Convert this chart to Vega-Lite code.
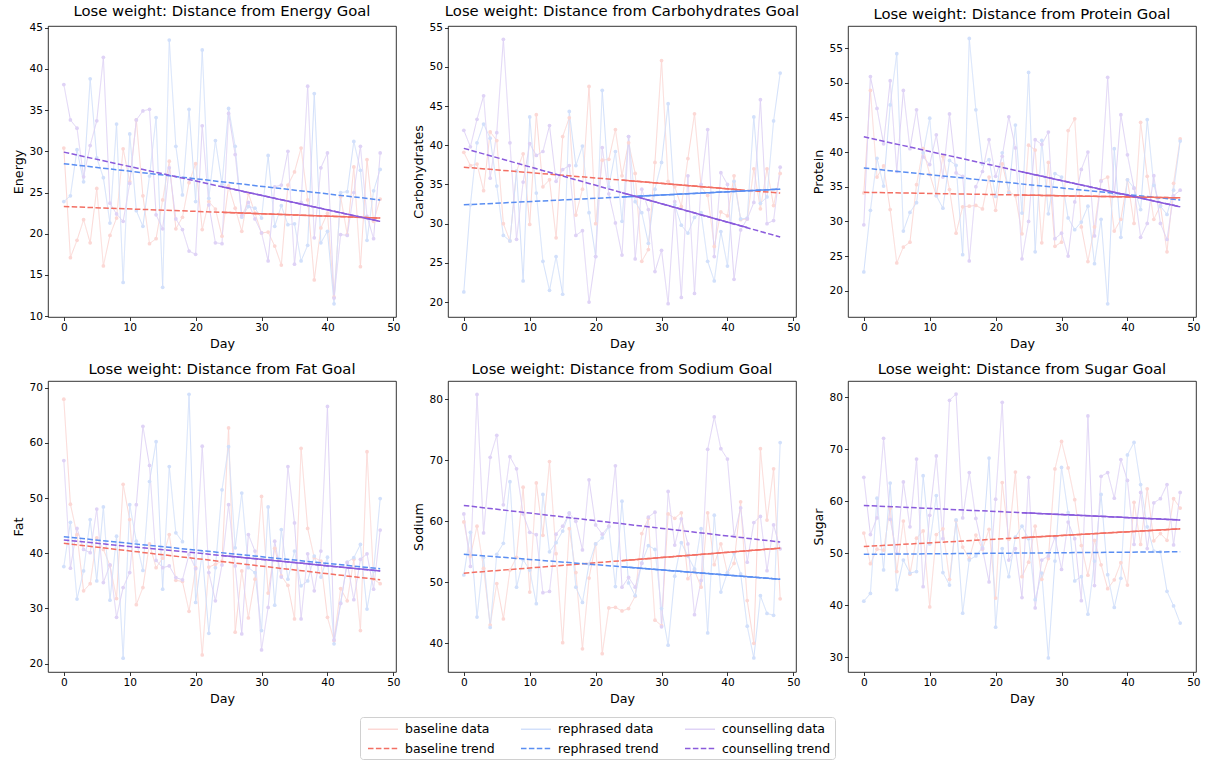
{
"$schema": "https://vega.github.io/schema/vega-lite/v6.json",
"padding": {"left": 11, "top": 3, "right": 5, "bottom": 1},
"columns": 3,
"spacing": {"row": 10, "column": 10},
"datasets": {
"obs": [
{"panel":"Energy","day":0,"baseline data":30.4,"rephrased data":23.9,"counselling data":38.1},
{"panel":"Energy","day":1,"baseline data":17.1,"rephrased data":24.6,"counselling data":33.8},
{"panel":"Energy","day":2,"baseline data":19.2,"rephrased data":30.2,"counselling data":32.8},
{"panel":"Energy","day":3,"baseline data":21.7,"rephrased data":26.3,"counselling data":26.9},
{"panel":"Energy","day":4,"baseline data":18.9,"rephrased data":38.8,"counselling data":30.7},
{"panel":"Energy","day":5,"baseline data":25.5,"rephrased data":29.2,"counselling data":33.7},
{"panel":"Energy","day":6,"baseline data":16.1,"rephrased data":26.8,"counselling data":41.4},
{"panel":"Energy","day":7,"baseline data":19.8,"rephrased data":21.3,"counselling data":23.7},
{"panel":"Energy","day":8,"baseline data":21.9,"rephrased data":33.3,"counselling data":22.4},
{"panel":"Energy","day":9,"baseline data":30.3,"rephrased data":14.1,"counselling data":21.5},
{"panel":"Energy","day":10,"baseline data":26.3,"rephrased data":32.1,"counselling data":26.1},
{"panel":"Energy","day":11,"baseline data":33.8,"rephrased data":22.8,"counselling data":33.8},
{"panel":"Energy","day":12,"baseline data":24.6,"rephrased data":20.9,"counselling data":34.9},
{"panel":"Energy","day":13,"baseline data":18.8,"rephrased data":27.0,"counselling data":35.1},
{"panel":"Energy","day":14,"baseline data":19.4,"rephrased data":34.1,"counselling data":22.3},
{"panel":"Energy","day":15,"baseline data":24.1,"rephrased data":13.5,"counselling data":20.6},
{"panel":"Energy","day":16,"baseline data":28.8,"rephrased data":43.5,"counselling data":28.0},
{"panel":"Energy","day":17,"baseline data":20.6,"rephrased data":30.6,"counselling data":21.8},
{"panel":"Energy","day":18,"baseline data":22.0,"rephrased data":24.7,"counselling data":20.5},
{"panel":"Energy","day":19,"baseline data":26.2,"rephrased data":35.1,"counselling data":17.9},
{"panel":"Energy","day":20,"baseline data":28.5,"rephrased data":23.9,"counselling data":17.5},
{"panel":"Energy","day":21,"baseline data":20.5,"rephrased data":42.3,"counselling data":33.1},
{"panel":"Energy","day":22,"baseline data":23.9,"rephrased data":24.3,"counselling data":23.5},
{"panel":"Energy","day":23,"baseline data":23.0,"rephrased data":31.3,"counselling data":18.9},
{"panel":"Energy","day":24,"baseline data":19.7,"rephrased data":26.0,"counselling data":18.8},
{"panel":"Energy","day":25,"baseline data":25.8,"rephrased data":35.2,"counselling data":34.6},
{"panel":"Energy","day":26,"baseline data":23.1,"rephrased data":30.6,"counselling data":29.6},
{"panel":"Energy","day":27,"baseline data":20.3,"rephrased data":22.0,"counselling data":22.2},
{"panel":"Energy","day":28,"baseline data":24.9,"rephrased data":23.3,"counselling data":23.8},
{"panel":"Energy","day":29,"baseline data":22.5,"rephrased data":23.1,"counselling data":21.8},
{"panel":"Energy","day":30,"baseline data":20.1,"rephrased data":21.9,"counselling data":20.1},
{"panel":"Energy","day":31,"baseline data":20.2,"rephrased data":29.5,"counselling data":16.7},
{"panel":"Energy","day":32,"baseline data":18.5,"rephrased data":20.9,"counselling data":25.7},
{"panel":"Energy","day":33,"baseline data":16.2,"rephrased data":23.4,"counselling data":25.9},
{"panel":"Energy","day":34,"baseline data":25.9,"rephrased data":21.1,"counselling data":30.0},
{"panel":"Energy","day":35,"baseline data":27.5,"rephrased data":21.2,"counselling data":16.3},
{"panel":"Energy","day":36,"baseline data":30.4,"rephrased data":16.7,"counselling data":23.8},
{"panel":"Energy","day":37,"baseline data":24.1,"rephrased data":18.6,"counselling data":37.9},
{"panel":"Energy","day":38,"baseline data":14.4,"rephrased data":37.0,"counselling data":19.5},
{"panel":"Energy","day":39,"baseline data":20.7,"rephrased data":18.9,"counselling data":28.0},
{"panel":"Energy","day":40,"baseline data":22.5,"rephrased data":20.3,"counselling data":29.8},
{"panel":"Energy","day":41,"baseline data":12.3,"rephrased data":11.5,"counselling data":12.2},
{"panel":"Energy","day":42,"baseline data":24.5,"rephrased data":25.0,"counselling data":19.9},
{"panel":"Energy","day":43,"baseline data":19.9,"rephrased data":25.1,"counselling data":19.8},
{"panel":"Energy","day":44,"baseline data":28.1,"rephrased data":31.2,"counselling data":25.0},
{"panel":"Energy","day":45,"baseline data":16.0,"rephrased data":27.7,"counselling data":30.6},
{"panel":"Energy","day":46,"baseline data":29.0,"rephrased data":19.2,"counselling data":22.1},
{"panel":"Energy","day":47,"baseline data":21.5,"rephrased data":25.2,"counselling data":19.4},
{"panel":"Energy","day":48,"baseline data":24.2,"rephrased data":27.8,"counselling data":29.8},
{"panel":"Carbohydrates","day":0,"baseline data":39.1,"rephrased data":21.3,"counselling data":41.9},
{"panel":"Carbohydrates","day":1,"baseline data":37.4,"rephrased data":32.4,"counselling data":39.8},
{"panel":"Carbohydrates","day":2,"baseline data":37.6,"rephrased data":40.3,"counselling data":43.3},
{"panel":"Carbohydrates","day":3,"baseline data":34.2,"rephrased data":42.7,"counselling data":46.3},
{"panel":"Carbohydrates","day":4,"baseline data":41.7,"rephrased data":40.9,"counselling data":35.8},
{"panel":"Carbohydrates","day":5,"baseline data":40.6,"rephrased data":34.8,"counselling data":41.6},
{"panel":"Carbohydrates","day":6,"baseline data":30.0,"rephrased data":28.5,"counselling data":53.5},
{"panel":"Carbohydrates","day":7,"baseline data":27.8,"rephrased data":27.8,"counselling data":40.3},
{"panel":"Carbohydrates","day":8,"baseline data":36.7,"rephrased data":36.7,"counselling data":28.0},
{"panel":"Carbohydrates","day":9,"baseline data":38.9,"rephrased data":22.7,"counselling data":35.3},
{"panel":"Carbohydrates","day":10,"baseline data":29.9,"rephrased data":43.6,"counselling data":40.2},
{"panel":"Carbohydrates","day":11,"baseline data":43.9,"rephrased data":33.9,"counselling data":38.7},
{"panel":"Carbohydrates","day":12,"baseline data":34.7,"rephrased data":25.2,"counselling data":39.2},
{"panel":"Carbohydrates","day":13,"baseline data":35.6,"rephrased data":21.5,"counselling data":42.5},
{"panel":"Carbohydrates","day":14,"baseline data":28.2,"rephrased data":25.8,"counselling data":35.4},
{"panel":"Carbohydrates","day":15,"baseline data":41.1,"rephrased data":21.0,"counselling data":36.9},
{"panel":"Carbohydrates","day":16,"baseline data":43.5,"rephrased data":44.3,"counselling data":37.4},
{"panel":"Carbohydrates","day":17,"baseline data":31.1,"rephrased data":37.4,"counselling data":28.5},
{"panel":"Carbohydrates","day":18,"baseline data":34.4,"rephrased data":39.9,"counselling data":29.1},
{"panel":"Carbohydrates","day":19,"baseline data":47.5,"rephrased data":31.4,"counselling data":20.0},
{"panel":"Carbohydrates","day":20,"baseline data":30.0,"rephrased data":25.8,"counselling data":25.8},
{"panel":"Carbohydrates","day":21,"baseline data":38.1,"rephrased data":47.0,"counselling data":39.7},
{"panel":"Carbohydrates","day":22,"baseline data":38.2,"rephrased data":34.7,"counselling data":33.8},
{"panel":"Carbohydrates","day":23,"baseline data":42.0,"rephrased data":39.2,"counselling data":30.1},
{"panel":"Carbohydrates","day":24,"baseline data":36.1,"rephrased data":30.3,"counselling data":26.0},
{"panel":"Carbohydrates","day":25,"baseline data":40.3,"rephrased data":41.1,"counselling data":41.1},
{"panel":"Carbohydrates","day":26,"baseline data":36.4,"rephrased data":32.8,"counselling data":25.5},
{"panel":"Carbohydrates","day":27,"baseline data":25.2,"rephrased data":31.4,"counselling data":34.4},
{"panel":"Carbohydrates","day":28,"baseline data":26.7,"rephrased data":27.5,"counselling data":31.8},
{"panel":"Carbohydrates","day":29,"baseline data":37.8,"rephrased data":34.4,"counselling data":23.9},
{"panel":"Carbohydrates","day":30,"baseline data":50.8,"rephrased data":37.8,"counselling data":26.6},
{"panel":"Carbohydrates","day":31,"baseline data":35.4,"rephrased data":45.3,"counselling data":19.8},
{"panel":"Carbohydrates","day":32,"baseline data":34.7,"rephrased data":32.4,"counselling data":32.8},
{"panel":"Carbohydrates","day":33,"baseline data":32.2,"rephrased data":29.8,"counselling data":20.6},
{"panel":"Carbohydrates","day":34,"baseline data":38.3,"rephrased data":28.8,"counselling data":36.1},
{"panel":"Carbohydrates","day":35,"baseline data":44.0,"rephrased data":30.8,"counselling data":21.1},
{"panel":"Carbohydrates","day":36,"baseline data":34.7,"rephrased data":31.4,"counselling data":35.0},
{"panel":"Carbohydrates","day":37,"baseline data":33.6,"rephrased data":25.2,"counselling data":42.0},
{"panel":"Carbohydrates","day":38,"baseline data":27.1,"rephrased data":22.7,"counselling data":25.8},
{"panel":"Carbohydrates","day":39,"baseline data":31.5,"rephrased data":29.0,"counselling data":36.5},
{"panel":"Carbohydrates","day":40,"baseline data":31.0,"rephrased data":24.6,"counselling data":35.0},
{"panel":"Carbohydrates","day":41,"baseline data":36.1,"rephrased data":35.4,"counselling data":22.9},
{"panel":"Carbohydrates","day":42,"baseline data":30.5,"rephrased data":30.6,"counselling data":29.2},
{"panel":"Carbohydrates","day":43,"baseline data":30.6,"rephrased data":30.7,"counselling data":30.6},
{"panel":"Carbohydrates","day":44,"baseline data":37.0,"rephrased data":43.6,"counselling data":32.7},
{"panel":"Carbohydrates","day":45,"baseline data":31.9,"rephrased data":32.6,"counselling data":45.8},
{"panel":"Carbohydrates","day":46,"baseline data":37.0,"rephrased data":33.4,"counselling data":30.0},
{"panel":"Carbohydrates","day":47,"baseline data":32.3,"rephrased data":43.1,"counselling data":30.4},
{"panel":"Carbohydrates","day":48,"baseline data":36.4,"rephrased data":49.2,"counselling data":37.2},
{"panel":"Protein","day":0,"baseline data":34.1,"rephrased data":22.7,"counselling data":29.5},
{"panel":"Protein","day":1,"baseline data":48.9,"rephrased data":31.6,"counselling data":50.9},
{"panel":"Protein","day":2,"baseline data":36.4,"rephrased data":39.1,"counselling data":46.3},
{"panel":"Protein","day":3,"baseline data":38.0,"rephrased data":35.1,"counselling data":41.2},
{"panel":"Protein","day":4,"baseline data":31.7,"rephrased data":46.8,"counselling data":50.3},
{"panel":"Protein","day":5,"baseline data":24.0,"rephrased data":54.2,"counselling data":37.2},
{"panel":"Protein","day":6,"baseline data":26.3,"rephrased data":28.6,"counselling data":48.9},
{"panel":"Protein","day":7,"baseline data":27.0,"rephrased data":31.3,"counselling data":40.5},
{"panel":"Protein","day":8,"baseline data":35.3,"rephrased data":32.7,"counselling data":46.1},
{"panel":"Protein","day":9,"baseline data":40.5,"rephrased data":39.9,"counselling data":39.3},
{"panel":"Protein","day":10,"baseline data":36.8,"rephrased data":44.9,"counselling data":38.2},
{"panel":"Protein","day":11,"baseline data":33.7,"rephrased data":33.7,"counselling data":42.5},
{"panel":"Protein","day":12,"baseline data":39.4,"rephrased data":31.9,"counselling data":36.4},
{"panel":"Protein","day":13,"baseline data":34.6,"rephrased data":38.8,"counselling data":45.5},
{"panel":"Protein","day":14,"baseline data":28.3,"rephrased data":38.1,"counselling data":37.0},
{"panel":"Protein","day":15,"baseline data":32.1,"rephrased data":25.2,"counselling data":36.5},
{"panel":"Protein","day":16,"baseline data":32.2,"rephrased data":56.4,"counselling data":24.3},
{"panel":"Protein","day":17,"baseline data":32.3,"rephrased data":46.1,"counselling data":35.0},
{"panel":"Protein","day":18,"baseline data":31.8,"rephrased data":38.3,"counselling data":37.2},
{"panel":"Protein","day":19,"baseline data":36.4,"rephrased data":38.9,"counselling data":41.8},
{"panel":"Protein","day":20,"baseline data":31.6,"rephrased data":33.6,"counselling data":36.5},
{"panel":"Protein","day":21,"baseline data":38.3,"rephrased data":39.9,"counselling data":39.4},
{"panel":"Protein","day":22,"baseline data":34.3,"rephrased data":34.1,"counselling data":45.1},
{"panel":"Protein","day":23,"baseline data":33.7,"rephrased data":43.9,"counselling data":40.6},
{"panel":"Protein","day":24,"baseline data":28.2,"rephrased data":31.2,"counselling data":24.6},
{"panel":"Protein","day":25,"baseline data":41.0,"rephrased data":51.5,"counselling data":30.0},
{"panel":"Protein","day":26,"baseline data":40.3,"rephrased data":25.6,"counselling data":41.8},
{"panel":"Protein","day":27,"baseline data":26.9,"rephrased data":41.7,"counselling data":41.1},
{"panel":"Protein","day":28,"baseline data":38.5,"rephrased data":31.1,"counselling data":42.9},
{"panel":"Protein","day":29,"baseline data":26.4,"rephrased data":36.9,"counselling data":27.5},
{"panel":"Protein","day":30,"baseline data":27.0,"rephrased data":36.4,"counselling data":28.3},
{"panel":"Protein","day":31,"baseline data":43.1,"rephrased data":30.5,"counselling data":25.0},
{"panel":"Protein","day":32,"baseline data":44.8,"rephrased data":28.8,"counselling data":32.8},
{"panel":"Protein","day":33,"baseline data":29.2,"rephrased data":29.9,"counselling data":37.5},
{"panel":"Protein","day":34,"baseline data":24.2,"rephrased data":32.2,"counselling data":40.0},
{"panel":"Protein","day":35,"baseline data":29.2,"rephrased data":23.9,"counselling data":27.9},
{"panel":"Protein","day":36,"baseline data":35.9,"rephrased data":30.3,"counselling data":35.8},
{"panel":"Protein","day":37,"baseline data":36.4,"rephrased data":18.1,"counselling data":50.8},
{"panel":"Protein","day":38,"baseline data":28.6,"rephrased data":40.5,"counselling data":33.7},
{"panel":"Protein","day":39,"baseline data":30.3,"rephrased data":27.7,"counselling data":45.4},
{"panel":"Protein","day":40,"baseline data":36.0,"rephrased data":36.0,"counselling data":39.6},
{"panel":"Protein","day":41,"baseline data":29.7,"rephrased data":34.8,"counselling data":34.8},
{"panel":"Protein","day":42,"baseline data":44.3,"rephrased data":31.7,"counselling data":27.7},
{"panel":"Protein","day":43,"baseline data":36.5,"rephrased data":44.7,"counselling data":29.7},
{"panel":"Protein","day":44,"baseline data":30.3,"rephrased data":35.2,"counselling data":36.6},
{"panel":"Protein","day":45,"baseline data":32.3,"rephrased data":32.2,"counselling data":29.7},
{"panel":"Protein","day":46,"baseline data":25.6,"rephrased data":31.0,"counselling data":27.4},
{"panel":"Protein","day":47,"baseline data":35.5,"rephrased data":34.5,"counselling data":33.7},
{"panel":"Protein","day":48,"baseline data":41.9,"rephrased data":41.6,"counselling data":34.5},
{"panel":"Fat","day":0,"baseline data":67.9,"rephrased data":37.6,"counselling data":56.8},
{"panel":"Fat","day":1,"baseline data":48.9,"rephrased data":45.6,"counselling data":37.3},
{"panel":"Fat","day":2,"baseline data":43.4,"rephrased data":31.7,"counselling data":44.5},
{"panel":"Fat","day":3,"baseline data":33.2,"rephrased data":36.8,"counselling data":40.7},
{"panel":"Fat","day":4,"baseline data":34.5,"rephrased data":46.1,"counselling data":40.1},
{"panel":"Fat","day":5,"baseline data":42.8,"rephrased data":35.0,"counselling data":48.0},
{"panel":"Fat","day":6,"baseline data":40.7,"rephrased data":48.4,"counselling data":34.7},
{"panel":"Fat","day":7,"baseline data":37.8,"rephrased data":31.5,"counselling data":37.9},
{"panel":"Fat","day":8,"baseline data":31.8,"rephrased data":43.1,"counselling data":28.4},
{"panel":"Fat","day":9,"baseline data":52.5,"rephrased data":21.0,"counselling data":33.8},
{"panel":"Fat","day":10,"baseline data":46.1,"rephrased data":48.8,"counselling data":36.5},
{"panel":"Fat","day":11,"baseline data":30.7,"rephrased data":42.2,"counselling data":48.8},
{"panel":"Fat","day":12,"baseline data":33.8,"rephrased data":36.9,"counselling data":63.0},
{"panel":"Fat","day":13,"baseline data":41.7,"rephrased data":53.0,"counselling data":55.9},
{"panel":"Fat","day":14,"baseline data":37.4,"rephrased data":60.2,"counselling data":38.7},
{"panel":"Fat","day":15,"baseline data":39.1,"rephrased data":33.5,"counselling data":37.4},
{"panel":"Fat","day":16,"baseline data":43.4,"rephrased data":55.7,"counselling data":37.7},
{"panel":"Fat","day":17,"baseline data":35.1,"rephrased data":43.7,"counselling data":35.6},
{"panel":"Fat","day":18,"baseline data":34.9,"rephrased data":42.1,"counselling data":35.2},
{"panel":"Fat","day":19,"baseline data":29.5,"rephrased data":68.8,"counselling data":39.8},
{"panel":"Fat","day":20,"baseline data":37.4,"rephrased data":31.1,"counselling data":37.2},
{"panel":"Fat","day":21,"baseline data":21.6,"rephrased data":40.1,"counselling data":59.4},
{"panel":"Fat","day":22,"baseline data":37.5,"rephrased data":25.5,"counselling data":36.5},
{"panel":"Fat","day":23,"baseline data":38.0,"rephrased data":37.4,"counselling data":31.4},
{"panel":"Fat","day":24,"baseline data":38.6,"rephrased data":51.5,"counselling data":37.9},
{"panel":"Fat","day":25,"baseline data":62.7,"rephrased data":59.3,"counselling data":48.8},
{"panel":"Fat","day":26,"baseline data":25.7,"rephrased data":41.0,"counselling data":37.7},
{"panel":"Fat","day":27,"baseline data":36.8,"rephrased data":50.9,"counselling data":25.4},
{"panel":"Fat","day":28,"baseline data":28.3,"rephrased data":37.4,"counselling data":43.4},
{"panel":"Fat","day":29,"baseline data":35.3,"rephrased data":36.5,"counselling data":40.4},
{"panel":"Fat","day":30,"baseline data":50.3,"rephrased data":26.0,"counselling data":22.5},
{"panel":"Fat","day":31,"baseline data":32.8,"rephrased data":48.4,"counselling data":30.2},
{"panel":"Fat","day":32,"baseline data":40.9,"rephrased data":30.6,"counselling data":42.2},
{"panel":"Fat","day":33,"baseline data":35.9,"rephrased data":44.3,"counselling data":35.7},
{"panel":"Fat","day":34,"baseline data":34.2,"rephrased data":35.3,"counselling data":55.7},
{"panel":"Fat","day":35,"baseline data":28.1,"rephrased data":40.4,"counselling data":45.5},
{"panel":"Fat","day":36,"baseline data":59.0,"rephrased data":34.1,"counselling data":28.1},
{"panel":"Fat","day":37,"baseline data":44.5,"rephrased data":35.0,"counselling data":39.9},
{"panel":"Fat","day":38,"baseline data":39.2,"rephrased data":39.5,"counselling data":33.2},
{"panel":"Fat","day":39,"baseline data":38.6,"rephrased data":35.7,"counselling data":40.4},
{"panel":"Fat","day":40,"baseline data":28.4,"rephrased data":39.3,"counselling data":66.6},
{"panel":"Fat","day":41,"baseline data":24.2,"rephrased data":23.6,"counselling data":24.3},
{"panel":"Fat","day":42,"baseline data":33.6,"rephrased data":31.0,"counselling data":30.9},
{"panel":"Fat","day":43,"baseline data":31.4,"rephrased data":38.4,"counselling data":38.3},
{"panel":"Fat","day":44,"baseline data":38.9,"rephrased data":39.2,"counselling data":31.6},
{"panel":"Fat","day":45,"baseline data":26.0,"rephrased data":41.6,"counselling data":38.9},
{"panel":"Fat","day":46,"baseline data":58.4,"rephrased data":29.9,"counselling data":39.9},
{"panel":"Fat","day":47,"baseline data":35.3,"rephrased data":36.8,"counselling data":33.5},
{"panel":"Fat","day":48,"baseline data":34.5,"rephrased data":49.9,"counselling data":44.2},
{"panel":"Sodium","day":0,"baseline data":59.9,"rephrased data":51.2,"counselling data":61.2},
{"panel":"Sodium","day":1,"baseline data":54.3,"rephrased data":58.2,"counselling data":52.6},
{"panel":"Sodium","day":2,"baseline data":59.2,"rephrased data":44.3,"counselling data":80.8},
{"panel":"Sodium","day":3,"baseline data":52.3,"rephrased data":54.1,"counselling data":58.1},
{"panel":"Sodium","day":4,"baseline data":43.0,"rephrased data":42.6,"counselling data":70.5},
{"panel":"Sodium","day":5,"baseline data":49.8,"rephrased data":54.6,"counselling data":74.1},
{"panel":"Sodium","day":6,"baseline data":44.0,"rephrased data":56.4,"counselling data":62.7},
{"panel":"Sodium","day":7,"baseline data":52.0,"rephrased data":66.5,"counselling data":70.6},
{"panel":"Sodium","day":8,"baseline data":54.1,"rephrased data":49.2,"counselling data":68.6},
{"panel":"Sodium","day":9,"baseline data":65.6,"rephrased data":53.7,"counselling data":61.2},
{"panel":"Sodium","day":10,"baseline data":48.4,"rephrased data":52.0,"counselling data":58.2},
{"panel":"Sodium","day":11,"baseline data":66.3,"rephrased data":46.5,"counselling data":57.8},
{"panel":"Sodium","day":12,"baseline data":57.7,"rephrased data":64.4,"counselling data":48.3},
{"panel":"Sodium","day":13,"baseline data":69.8,"rephrased data":55.0,"counselling data":48.5},
{"panel":"Sodium","day":14,"baseline data":54.7,"rephrased data":56.5,"counselling data":57.9},
{"panel":"Sodium","day":15,"baseline data":40.1,"rephrased data":58.4,"counselling data":59.2},
{"panel":"Sodium","day":16,"baseline data":58.8,"rephrased data":61.4,"counselling data":61.3},
{"panel":"Sodium","day":17,"baseline data":51.6,"rephrased data":49.2,"counselling data":60.0},
{"panel":"Sodium","day":18,"baseline data":39.1,"rephrased data":46.7,"counselling data":55.3},
{"panel":"Sodium","day":19,"baseline data":50.7,"rephrased data":53.0,"counselling data":66.8},
{"panel":"Sodium","day":20,"baseline data":56.3,"rephrased data":56.3,"counselling data":59.4},
{"panel":"Sodium","day":21,"baseline data":38.3,"rephrased data":57.3,"counselling data":57.9},
{"panel":"Sodium","day":22,"baseline data":45.8,"rephrased data":59.1,"counselling data":59.2},
{"panel":"Sodium","day":23,"baseline data":45.9,"rephrased data":49.3,"counselling data":69.1},
{"panel":"Sodium","day":24,"baseline data":45.3,"rephrased data":63.3,"counselling data":49.2},
{"panel":"Sodium","day":25,"baseline data":45.7,"rephrased data":49.9,"counselling data":50.8},
{"panel":"Sodium","day":26,"baseline data":47.7,"rephrased data":47.8,"counselling data":49.2},
{"panel":"Sodium","day":27,"baseline data":58.0,"rephrased data":53.2,"counselling data":53.1},
{"panel":"Sodium","day":28,"baseline data":60.5,"rephrased data":56.0,"counselling data":60.7},
{"panel":"Sodium","day":29,"baseline data":43.8,"rephrased data":55.4,"counselling data":61.5},
{"panel":"Sodium","day":30,"baseline data":42.9,"rephrased data":45.7,"counselling data":42.7},
{"panel":"Sodium","day":31,"baseline data":61.2,"rephrased data":39.7,"counselling data":64.9},
{"panel":"Sodium","day":32,"baseline data":60.5,"rephrased data":51.0,"counselling data":56.1},
{"panel":"Sodium","day":33,"baseline data":61.4,"rephrased data":56.5,"counselling data":60.4},
{"panel":"Sodium","day":34,"baseline data":50.6,"rephrased data":54.3,"counselling data":56.3},
{"panel":"Sodium","day":35,"baseline data":52.0,"rephrased data":52.2,"counselling data":44.7},
{"panel":"Sodium","day":36,"baseline data":49.2,"rephrased data":58.8,"counselling data":50.3},
{"panel":"Sodium","day":37,"baseline data":61.4,"rephrased data":41.7,"counselling data":71.8},
{"panel":"Sodium","day":38,"baseline data":52.9,"rephrased data":61.0,"counselling data":77.1},
{"panel":"Sodium","day":39,"baseline data":56.3,"rephrased data":48.4,"counselling data":71.9},
{"panel":"Sodium","day":40,"baseline data":51.5,"rephrased data":51.6,"counselling data":70.2},
{"panel":"Sodium","day":41,"baseline data":53.1,"rephrased data":54.8,"counselling data":57.6},
{"panel":"Sodium","day":42,"baseline data":63.2,"rephrased data":51.4,"counselling data":62.2},
{"panel":"Sodium","day":43,"baseline data":47.0,"rephrased data":42.8,"counselling data":53.3},
{"panel":"Sodium","day":44,"baseline data":40.0,"rephrased data":37.6,"counselling data":59.8},
{"panel":"Sodium","day":45,"baseline data":71.9,"rephrased data":47.8,"counselling data":60.8},
{"panel":"Sodium","day":46,"baseline data":60.2,"rephrased data":44.9,"counselling data":51.9},
{"panel":"Sodium","day":47,"baseline data":68.6,"rephrased data":44.6,"counselling data":59.4},
{"panel":"Sodium","day":48,"baseline data":47.3,"rephrased data":72.9,"counselling data":55.5},
{"panel":"Sugar","day":0,"baseline data":53.9,"rephrased data":40.8,"counselling data":64.6},
{"panel":"Sugar","day":1,"baseline data":48.0,"rephrased data":42.3,"counselling data":53.6},
{"panel":"Sugar","day":2,"baseline data":50.8,"rephrased data":60.6,"counselling data":56.8},
{"panel":"Sugar","day":3,"baseline data":50.6,"rephrased data":46.8,"counselling data":72.1},
{"panel":"Sugar","day":4,"baseline data":58.7,"rephrased data":63.5,"counselling data":56.5},
{"panel":"Sugar","day":5,"baseline data":46.5,"rephrased data":43.0,"counselling data":50.0},
{"panel":"Sugar","day":6,"baseline data":56.2,"rephrased data":48.7,"counselling data":63.7},
{"panel":"Sugar","day":7,"baseline data":46.0,"rephrased data":46.2,"counselling data":55.1},
{"panel":"Sugar","day":8,"baseline data":52.9,"rephrased data":46.5,"counselling data":68.1},
{"panel":"Sugar","day":9,"baseline data":54.3,"rephrased data":64.9,"counselling data":43.6},
{"panel":"Sugar","day":10,"baseline data":39.7,"rephrased data":51.8,"counselling data":57.3},
{"panel":"Sugar","day":11,"baseline data":53.6,"rephrased data":61.1,"counselling data":68.7},
{"panel":"Sugar","day":12,"baseline data":54.7,"rephrased data":46.3,"counselling data":52.8},
{"panel":"Sugar","day":13,"baseline data":45.0,"rephrased data":43.9,"counselling data":79.4},
{"panel":"Sugar","day":14,"baseline data":56.3,"rephrased data":56.4,"counselling data":80.6},
{"panel":"Sugar","day":15,"baseline data":51.2,"rephrased data":38.5,"counselling data":56.8},
{"panel":"Sugar","day":16,"baseline data":49.0,"rephrased data":48.7,"counselling data":65.5},
{"panel":"Sugar","day":17,"baseline data":53.5,"rephrased data":49.5,"counselling data":56.7},
{"panel":"Sugar","day":18,"baseline data":50.8,"rephrased data":51.1,"counselling data":50.9},
{"panel":"Sugar","day":19,"baseline data":54.6,"rephrased data":68.3,"counselling data":44.5},
{"panel":"Sugar","day":20,"baseline data":41.4,"rephrased data":35.8,"counselling data":60.4},
{"panel":"Sugar","day":21,"baseline data":63.6,"rephrased data":50.9,"counselling data":79.0},
{"panel":"Sugar","day":22,"baseline data":52.7,"rephrased data":45.5,"counselling data":48.7},
{"panel":"Sugar","day":23,"baseline data":65.6,"rephrased data":53.1,"counselling data":50.9},
{"panel":"Sugar","day":24,"baseline data":45.5,"rephrased data":55.2,"counselling data":41.5},
{"panel":"Sugar","day":25,"baseline data":48.3,"rephrased data":52.8,"counselling data":64.6},
{"panel":"Sugar","day":26,"baseline data":55.2,"rephrased data":41.1,"counselling data":39.5},
{"panel":"Sugar","day":27,"baseline data":45.0,"rephrased data":46.2,"counselling data":48.7},
{"panel":"Sugar","day":28,"baseline data":49.0,"rephrased data":29.9,"counselling data":49.5},
{"panel":"Sugar","day":29,"baseline data":66.2,"rephrased data":48.5,"counselling data":53.1},
{"panel":"Sugar","day":30,"baseline data":71.5,"rephrased data":66.5,"counselling data":46.9},
{"panel":"Sugar","day":31,"baseline data":66.4,"rephrased data":57.8,"counselling data":56.0},
{"panel":"Sugar","day":32,"baseline data":60.3,"rephrased data":44.7,"counselling data":52.8},
{"panel":"Sugar","day":33,"baseline data":51.5,"rephrased data":45.5,"counselling data":40.9},
{"panel":"Sugar","day":34,"baseline data":45.8,"rephrased data":38.3,"counselling data":76.4},
{"panel":"Sugar","day":35,"baseline data":52.5,"rephrased data":48.5,"counselling data":43.8},
{"panel":"Sugar","day":36,"baseline data":47.8,"rephrased data":61.3,"counselling data":64.8},
{"panel":"Sugar","day":37,"baseline data":43.2,"rephrased data":45.9,"counselling data":65.5},
{"panel":"Sugar","day":38,"baseline data":44.9,"rephrased data":39.6,"counselling data":60.6},
{"panel":"Sugar","day":39,"baseline data":48.2,"rephrased data":45.2,"counselling data":68.0},
{"panel":"Sugar","day":40,"baseline data":43.9,"rephrased data":68.9,"counselling data":64.0},
{"panel":"Sugar","day":41,"baseline data":59.8,"rephrased data":71.3,"counselling data":51.7},
{"panel":"Sugar","day":42,"baseline data":51.7,"rephrased data":63.2,"counselling data":61.7},
{"panel":"Sugar","day":43,"baseline data":62.4,"rephrased data":55.1,"counselling data":50.9},
{"panel":"Sugar","day":44,"baseline data":52.4,"rephrased data":50.4,"counselling data":59.7},
{"panel":"Sugar","day":45,"baseline data":53.8,"rephrased data":50.3,"counselling data":60.5},
{"panel":"Sugar","day":46,"baseline data":52.5,"rephrased data":42.7,"counselling data":63.2},
{"panel":"Sugar","day":47,"baseline data":60.5,"rephrased data":39.9,"counselling data":51.6},
{"panel":"Sugar","day":48,"baseline data":58.7,"rephrased data":36.6,"counselling data":61.7}
],
"trend": [
{"panel":"Energy","key":"baseline trend","seg":"full","day":0,"value":23.3},
{"panel":"Energy","key":"baseline trend","seg":"full","day":48,"value":21.9},
{"panel":"Energy","key":"rephrased trend","seg":"full","day":0,"value":28.5},
{"panel":"Energy","key":"rephrased trend","seg":"full","day":48,"value":24.1},
{"panel":"Energy","key":"counselling trend","seg":"full","day":0,"value":29.9},
{"panel":"Energy","key":"counselling trend","seg":"full","day":48,"value":21.5},
{"panel":"Energy","key":"baseline trend","seg":"solid","day":24,"value":22.6},
{"panel":"Energy","key":"baseline trend","seg":"solid","day":48,"value":21.9},
{"panel":"Energy","key":"counselling trend","seg":"solid","day":24,"value":25.7},
{"panel":"Energy","key":"counselling trend","seg":"solid","day":48,"value":21.5},
{"panel":"Carbohydrates","key":"baseline trend","seg":"full","day":0,"value":37.2},
{"panel":"Carbohydrates","key":"baseline trend","seg":"full","day":48,"value":33.9},
{"panel":"Carbohydrates","key":"rephrased trend","seg":"full","day":0,"value":32.4},
{"panel":"Carbohydrates","key":"rephrased trend","seg":"full","day":48,"value":34.4},
{"panel":"Carbohydrates","key":"counselling trend","seg":"full","day":0,"value":39.6},
{"panel":"Carbohydrates","key":"counselling trend","seg":"full","day":48,"value":28.3},
{"panel":"Carbohydrates","key":"baseline trend","seg":"solid","day":24,"value":35.55},
{"panel":"Carbohydrates","key":"baseline trend","seg":"solid","day":42,"value":34.3},
{"panel":"Carbohydrates","key":"rephrased trend","seg":"solid","day":24,"value":33.4},
{"panel":"Carbohydrates","key":"rephrased trend","seg":"solid","day":48,"value":34.4},
{"panel":"Carbohydrates","key":"counselling trend","seg":"solid","day":24,"value":33.95},
{"panel":"Carbohydrates","key":"counselling trend","seg":"solid","day":43,"value":29.5},
{"panel":"Protein","key":"baseline trend","seg":"full","day":0,"value":34.2},
{"panel":"Protein","key":"baseline trend","seg":"full","day":48,"value":33.4},
{"panel":"Protein","key":"rephrased trend","seg":"full","day":0,"value":37.7},
{"panel":"Protein","key":"rephrased trend","seg":"full","day":48,"value":33.1},
{"panel":"Protein","key":"counselling trend","seg":"full","day":0,"value":42.2},
{"panel":"Protein","key":"counselling trend","seg":"full","day":48,"value":32.1},
{"panel":"Protein","key":"baseline trend","seg":"solid","day":24,"value":33.8},
{"panel":"Protein","key":"baseline trend","seg":"solid","day":48,"value":33.4},
{"panel":"Protein","key":"counselling trend","seg":"solid","day":24,"value":37.15},
{"panel":"Protein","key":"counselling trend","seg":"solid","day":48,"value":32.1},
{"panel":"Fat","key":"baseline trend","seg":"full","day":0,"value":41.8},
{"panel":"Fat","key":"baseline trend","seg":"full","day":48,"value":35.2},
{"panel":"Fat","key":"rephrased trend","seg":"full","day":0,"value":43.0},
{"panel":"Fat","key":"rephrased trend","seg":"full","day":48,"value":37.2},
{"panel":"Fat","key":"counselling trend","seg":"full","day":0,"value":42.4},
{"panel":"Fat","key":"counselling trend","seg":"full","day":48,"value":36.8},
{"panel":"Fat","key":"counselling trend","seg":"solid","day":24,"value":39.6},
{"panel":"Fat","key":"counselling trend","seg":"solid","day":48,"value":36.8},
{"panel":"Sodium","key":"baseline trend","seg":"full","day":0,"value":51.5},
{"panel":"Sodium","key":"baseline trend","seg":"full","day":48,"value":55.6},
{"panel":"Sodium","key":"rephrased trend","seg":"full","day":0,"value":54.6},
{"panel":"Sodium","key":"rephrased trend","seg":"full","day":48,"value":50.5},
{"panel":"Sodium","key":"counselling trend","seg":"full","day":0,"value":62.6},
{"panel":"Sodium","key":"counselling trend","seg":"full","day":48,"value":56.6},
{"panel":"Sodium","key":"baseline trend","seg":"solid","day":24,"value":53.55},
{"panel":"Sodium","key":"baseline trend","seg":"solid","day":48,"value":55.6},
{"panel":"Sodium","key":"rephrased trend","seg":"solid","day":24,"value":52.55},
{"panel":"Sodium","key":"rephrased trend","seg":"solid","day":48,"value":50.5},
{"panel":"Sugar","key":"baseline trend","seg":"full","day":0,"value":51.3},
{"panel":"Sugar","key":"baseline trend","seg":"full","day":48,"value":54.7},
{"panel":"Sugar","key":"rephrased trend","seg":"full","day":0,"value":49.8},
{"panel":"Sugar","key":"rephrased trend","seg":"full","day":48,"value":50.3},
{"panel":"Sugar","key":"counselling trend","seg":"full","day":0,"value":59.2},
{"panel":"Sugar","key":"counselling trend","seg":"full","day":48,"value":56.4},
{"panel":"Sugar","key":"baseline trend","seg":"solid","day":24,"value":53.0},
{"panel":"Sugar","key":"baseline trend","seg":"solid","day":48,"value":54.7},
{"panel":"Sugar","key":"counselling trend","seg":"solid","day":24,"value":57.8},
{"panel":"Sugar","key":"counselling trend","seg":"solid","day":48,"value":56.4}
]
},
"concat": [
{"title":"Lose weight: Distance from Energy Goal","width":348,"height":291,
 "encoding":{
  "x":{"field":"day","type":"quantitative","scale":{"domain":[-2.4,50.4],"nice":false,"zero":false},"axis":{"values":[0,10,20,30,40,50],"title":"Day"}},
  "y":{"field":"value","type":"quantitative","scale":{"domain":[9.9,45.2],"nice":false,"zero":false},"axis":{"values":[10,15,20,25,30,35,40,45],"title":"Energy"}},
  "color":{"field":"key","type":"nominal","scale":{"domain":["baseline data","baseline trend","rephrased data","rephrased trend","counselling data","counselling trend"],"range":["#fcd8d5","#f36f63","#d2e0fb","#5a8ef2","#dfd3f6","#8a5bdc"]},
   "legend":{"title":null,"orient":"none","legendX":312,"legendY":691,"columns":3,"symbolType":"M-2.143,0H2.143","symbolSize":196,"symbolOffset":11,"symbolStrokeWidth":1.5,"labelFontSize":12.5,"labelOffset":14,"columnPadding":22,"rowPadding":4.5,"padding":4,"strokeColor":"#d0d0d0","fillColor":"#ffffff","cornerRadius":3,"labelColor":"#000000"}},
  "strokeDash":{"field":"key","type":"nominal","scale":{"domain":["baseline data","baseline trend","rephrased data","rephrased trend","counselling data","counselling trend"],"range":[[1,0],[5.5,2.4],[1,0],[5.5,2.4],[1,0],[5.5,2.4]]}}},
 "layer":[
  {"data":{"name":"obs"},"transform":[{"filter":"datum.panel==='Energy'"},{"fold":["baseline data","rephrased data","counselling data"],"as":["key","value"]}],
   "mark":{"type":"line","strokeWidth":1,"point":{"filled":true,"size":14,"opacity":1}}},
  {"data":{"name":"trend"},"transform":[{"filter":"datum.panel==='Energy' && datum.seg==='full'"}],"mark":{"type":"line","strokeWidth":1.5}},
  {"data":{"name":"trend"},"transform":[{"filter":"datum.panel==='Energy' && datum.seg==='solid'"}],"mark":{"type":"line","strokeWidth":1.5},"encoding":{"strokeDash":{"value":[1,0]}}}
 ]},
{"title":"Lose weight: Distance from Carbohydrates Goal","width":348,"height":291,
 "encoding":{
  "x":{"field":"day","type":"quantitative","scale":{"domain":[-2.4,50.4],"nice":false,"zero":false},"axis":{"values":[0,10,20,30,40,50],"title":"Day"}},
  "y":{"field":"value","type":"quantitative","scale":{"domain":[18.1,55.2],"nice":false,"zero":false},"axis":{"values":[20,25,30,35,40,45,50,55],"title":"Carbohydrates"}},
  "color":{"field":"key","type":"nominal"},"strokeDash":{"field":"key","type":"nominal"}},
 "layer":[
  {"data":{"name":"obs"},"transform":[{"filter":"datum.panel==='Carbohydrates'"},{"fold":["baseline data","rephrased data","counselling data"],"as":["key","value"]}],
   "mark":{"type":"line","strokeWidth":1,"point":{"filled":true,"size":14,"opacity":1}}},
  {"data":{"name":"trend"},"transform":[{"filter":"datum.panel==='Carbohydrates' && datum.seg==='full'"}],"mark":{"type":"line","strokeWidth":1.5}},
  {"data":{"name":"trend"},"transform":[{"filter":"datum.panel==='Carbohydrates' && datum.seg==='solid'"}],"mark":{"type":"line","strokeWidth":1.5},"encoding":{"strokeDash":{"value":[1,0]}}}
 ]},
{"title":"Lose weight: Distance from Protein Goal","width":348,"height":291,
 "encoding":{
  "x":{"field":"day","type":"quantitative","scale":{"domain":[-2.4,50.4],"nice":false,"zero":false},"axis":{"values":[0,10,20,30,40,50],"title":"Day"}},
  "y":{"field":"value","type":"quantitative","scale":{"domain":[16.2,58.2],"nice":false,"zero":false},"axis":{"values":[20,25,30,35,40,45,50,55],"title":"Protein"}},
  "color":{"field":"key","type":"nominal"},"strokeDash":{"field":"key","type":"nominal"}},
 "layer":[
  {"data":{"name":"obs"},"transform":[{"filter":"datum.panel==='Protein'"},{"fold":["baseline data","rephrased data","counselling data"],"as":["key","value"]}],
   "mark":{"type":"line","strokeWidth":1,"point":{"filled":true,"size":14,"opacity":1}}},
  {"data":{"name":"trend"},"transform":[{"filter":"datum.panel==='Protein' && datum.seg==='full'"}],"mark":{"type":"line","strokeWidth":1.5}},
  {"data":{"name":"trend"},"transform":[{"filter":"datum.panel==='Protein' && datum.seg==='solid'"}],"mark":{"type":"line","strokeWidth":1.5},"encoding":{"strokeDash":{"value":[1,0]}}}
 ]},
{"title":"Lose weight: Distance from Fat Goal","width":348,"height":291,
 "encoding":{
  "x":{"field":"day","type":"quantitative","scale":{"domain":[-2.4,50.4],"nice":false,"zero":false},"axis":{"values":[0,10,20,30,40,50],"title":"Day"}},
  "y":{"field":"value","type":"quantitative","scale":{"domain":[18.5,71.2],"nice":false,"zero":false},"axis":{"values":[20,30,40,50,60,70],"title":"Fat"}},
  "color":{"field":"key","type":"nominal"},"strokeDash":{"field":"key","type":"nominal"}},
 "layer":[
  {"data":{"name":"obs"},"transform":[{"filter":"datum.panel==='Fat'"},{"fold":["baseline data","rephrased data","counselling data"],"as":["key","value"]}],
   "mark":{"type":"line","strokeWidth":1,"point":{"filled":true,"size":14,"opacity":1}}},
  {"data":{"name":"trend"},"transform":[{"filter":"datum.panel==='Fat' && datum.seg==='full'"}],"mark":{"type":"line","strokeWidth":1.5}},
  {"data":{"name":"trend"},"transform":[{"filter":"datum.panel==='Fat' && datum.seg==='solid'"}],"mark":{"type":"line","strokeWidth":1.5},"encoding":{"strokeDash":{"value":[1,0]}}}
 ]},
{"title":"Lose weight: Distance from Sodium Goal","width":348,"height":291,
 "encoding":{
  "x":{"field":"day","type":"quantitative","scale":{"domain":[-2.4,50.4],"nice":false,"zero":false},"axis":{"values":[0,10,20,30,40,50],"title":"Day"}},
  "y":{"field":"value","type":"quantitative","scale":{"domain":[35.3,83],"nice":false,"zero":false},"axis":{"values":[40,50,60,70,80],"title":"Sodium"}},
  "color":{"field":"key","type":"nominal"},"strokeDash":{"field":"key","type":"nominal"}},
 "layer":[
  {"data":{"name":"obs"},"transform":[{"filter":"datum.panel==='Sodium'"},{"fold":["baseline data","rephrased data","counselling data"],"as":["key","value"]}],
   "mark":{"type":"line","strokeWidth":1,"point":{"filled":true,"size":14,"opacity":1}}},
  {"data":{"name":"trend"},"transform":[{"filter":"datum.panel==='Sodium' && datum.seg==='full'"}],"mark":{"type":"line","strokeWidth":1.5}},
  {"data":{"name":"trend"},"transform":[{"filter":"datum.panel==='Sodium' && datum.seg==='solid'"}],"mark":{"type":"line","strokeWidth":1.5},"encoding":{"strokeDash":{"value":[1,0]}}}
 ]},
{"title":"Lose weight: Distance from Sugar Goal","width":348,"height":291,
 "encoding":{
  "x":{"field":"day","type":"quantitative","scale":{"domain":[-2.4,50.4],"nice":false,"zero":false},"axis":{"values":[0,10,20,30,40,50],"title":"Day"}},
  "y":{"field":"value","type":"quantitative","scale":{"domain":[27.2,83.1],"nice":false,"zero":false},"axis":{"values":[30,40,50,60,70,80],"title":"Sugar"}},
  "color":{"field":"key","type":"nominal"},"strokeDash":{"field":"key","type":"nominal"}},
 "layer":[
  {"data":{"name":"obs"},"transform":[{"filter":"datum.panel==='Sugar'"},{"fold":["baseline data","rephrased data","counselling data"],"as":["key","value"]}],
   "mark":{"type":"line","strokeWidth":1,"point":{"filled":true,"size":14,"opacity":1}}},
  {"data":{"name":"trend"},"transform":[{"filter":"datum.panel==='Sugar' && datum.seg==='full'"}],"mark":{"type":"line","strokeWidth":1.5}},
  {"data":{"name":"trend"},"transform":[{"filter":"datum.panel==='Sugar' && datum.seg==='solid'"}],"mark":{"type":"line","strokeWidth":1.5},"encoding":{"strokeDash":{"value":[1,0]}}}
 ]}
],
"config": {
 "font": "DejaVu Sans",
 "view": {"stroke": "#000000", "strokeWidth": 0.8},
 "axis": {"grid": false, "domain": false, "tickColor": "#000000", "tickSize": 3.5, "tickWidth": 0.8, "labelColor": "#000000", "labelFontSize": 10.6, "labelPadding": 2, "titleFontSize": 12.7, "titleFontWeight": "normal", "titleColor": "#000000", "titlePadding": 4},
 "title": {"fontSize": 14.8, "fontWeight": "normal", "color": "#000000", "offset": 4}
}
}
